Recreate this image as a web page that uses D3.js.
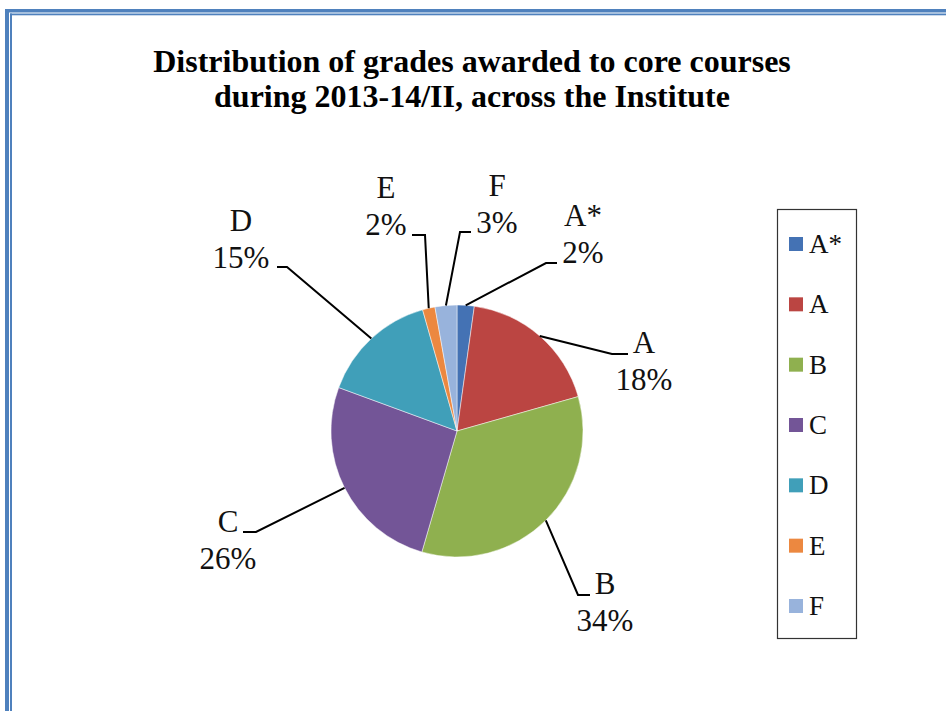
<!DOCTYPE html>
<html>
<head>
<meta charset="utf-8">
<script src="https://cdn.jsdelivr.net/npm/d3@7"></script>
<style>
  body { margin: 0; background: #fff; }
  svg { display: block; }
</style>
</head>
<body>
<div id="chart"></div>
<script>
// data (percent of grades awarded)
const grades = ['A*', 'A', 'B', 'C', 'D', 'E', 'F']
const shares = [2.2, 18.4, 33.9, 26.1, 15.0, 1.6, 2.8]
const sliceColors = ['#4472b4', '#bb4542', '#8fb04f', '#735597', '#409fb9', '#ec8840', '#98b3dc']

const titleLines = ['Distribution of grades awarded to core courses',
  'during 2013-14/II, across the Institute']

// hand placed label spots (relative to the pie centre), like the original
const labelSpots = [
  { tx: 126, ty: -205, ex: 89, ey: -168, ax: 100 },
  { tx: 187, ty: -78, ex: 155, ey: -77, ax: 171 },
  { tx: 148, ty: 163, ex: 121, ey: 164, ax: 133 },
  { tx: -229, ty: 101, ex: -201, ey: 101, ax: -214 },
  { tx: -216, ty: -200, ex: -170, ey: -164, ax: -180 },
  { tx: -71, ty: -233, ex: -32, ey: -196, ax: -45 },
  { tx: 40, ty: -235, ex: 3, ey: -199, ax: 14 }
]

const width = 946
const height = 711
const cx = 457
const cy = 431
const radius = 126
const serif = '"Liberation Serif", "Times New Roman", serif'

const svg = d3.select('#chart').append('svg')
  .attr('width', width)
  .attr('height', height)

// ----------------------------------------
// page border (double blue rule)
// ----------------------------------------
const borderC = '#4f81bd'
svg.append('rect').attr('x', 5).attr('y', 9).attr('width', 4).attr('height', height).attr('fill', borderC)
svg.append('rect').attr('x', 5).attr('y', 9).attr('width', width).attr('height', 3.5).attr('fill', borderC)
svg.append('rect').attr('x', 10).attr('y', 13.5).attr('width', 2).attr('height', height).attr('fill', borderC)
svg.append('rect').attr('x', 10).attr('y', 13.5).attr('width', width).attr('height', 1.8).attr('fill', borderC)

// ----------------------------------------
// title
// ----------------------------------------
svg.append('text')
  .attr('x', 472)
  .attr('y', 72)
  .style('font-family', serif)
  .style('font-weight', 'bold')
  .style('font-size', '32px')
  .style('text-anchor', 'middle')
  .selectAll('tspan')
  .data(titleLines)
  .enter().append('tspan')
    .attr('x', 472)
    .attr('dy', (d, i) => i === 0 ? 0 : 35)
    .text(d => d)

// ----------------------------------------
// pie
// ----------------------------------------
const color = d3.scaleOrdinal().domain(grades).range(sliceColors)

const pie = d3.pie().sort(null).value(d => d.value)
const arcs = pie(grades.map((g, i) => ({ grade: g, value: shares[i] })))

const arc = d3.arc().innerRadius(0).outerRadius(radius)
const edgeArc = d3.arc().innerRadius(radius).outerRadius(radius)

const pieG = svg.append('g').attr('transform', 'translate(' + cx + ',' + cy + ')')

pieG.selectAll('path.slice')
  .data(arcs)
  .enter().append('path')
    .attr('class', 'slice')
    .attr('d', arc)
    .attr('fill', d => color(d.data.grade))
    .attr('stroke', '#fff')
    .attr('stroke-opacity', 0.6)
    .attr('stroke-width', 0.8)

// leader lines: slice edge -> elbow -> label
pieG.selectAll('path.leader')
  .data(arcs)
  .enter().append('path')
    .attr('class', 'leader')
    .attr('fill', 'none')
    .attr('stroke', '#000')
    .attr('stroke-width', 2)
    .attr('d', (d, i) => {
      const p = edgeArc.centroid(d)
      const s = labelSpots[i]
      return d3.line()([p, [s.ex, s.ey], [s.ax, s.ey]])
    })

const labels = pieG.selectAll('text.label')
  .data(arcs)
  .enter().append('text')
    .attr('class', 'label')
    .style('font-family', serif)
    .style('font-size', '31px')
    .style('text-anchor', 'middle')
    .style('fill', '#111')

labels.append('tspan')
  .attr('x', (d, i) => labelSpots[i].tx)
  .attr('y', (d, i) => labelSpots[i].ty)
  .text(d => d.data.grade)

labels.append('tspan')
  .attr('x', (d, i) => labelSpots[i].tx)
  .attr('y', (d, i) => labelSpots[i].ty + 37)
  .text(d => Math.round(d.data.value) + '%')

// ----------------------------------------
// legend
// ----------------------------------------
svg.append('rect')
  .attr('x', 777.5)
  .attr('y', 209.5)
  .attr('width', 79)
  .attr('height', 429)
  .attr('fill', '#fff')
  .attr('stroke', '#333')
  .attr('stroke-width', 1.2)

const legendY = d3.scalePoint().domain(grades).range([244, 606])

const legendItem = svg.selectAll('g.legend-item')
  .data(grades)
  .enter().append('g')
    .attr('class', 'legend-item')
    .attr('transform', d => 'translate(0,' + legendY(d) + ')')

legendItem.append('rect')
  .attr('x', 789)
  .attr('y', -7)
  .attr('width', 14)
  .attr('height', 14)
  .attr('fill', d => color(d))

legendItem.append('text')
  .attr('x', 809)
  .attr('y', 9)
  .style('font-family', serif)
  .style('font-size', '27px')
  .style('fill', '#111')
  .text(d => d)
</script>
</body>
</html>
